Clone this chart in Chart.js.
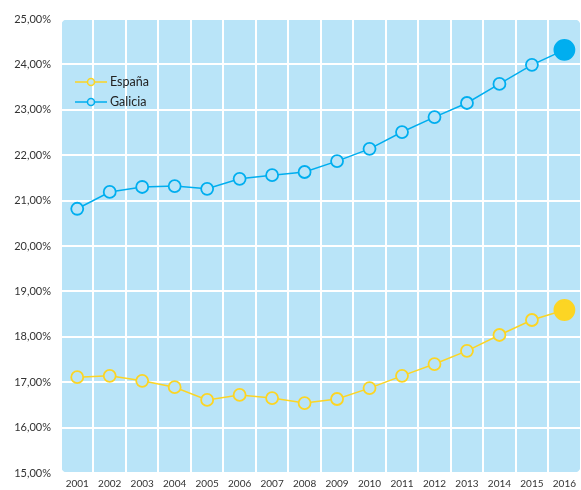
<!DOCTYPE html>
<html lang="es">
<head>
    <meta charset="UTF-8">
    <title>España vs Galicia</title>
    <script src="https://cdn.jsdelivr.net/npm/chart.js"></script>
    <style>
        html, body { margin: 0; padding: 0; background: #fff; overflow: hidden; }
        canvas { display: block; }
    </style>
</head>
<body>
    <canvas id="myChart" width="581" height="490"></canvas>
    <script>
        const years = ['2001','2002','2003','2004','2005','2006','2007','2008','2009','2010','2011','2012','2013','2014','2015','2016'];
        const espana = [17.11,17.14,17.03,16.89,16.61,16.72,16.65,16.54,16.63,16.87,17.14,17.40,17.69,18.04,18.37,18.59];
        const galicia = [20.82,21.19,21.30,21.32,21.26,21.48,21.56,21.63,21.87,22.14,22.51,22.84,23.15,23.57,23.99,24.32];
        const yMin = 15, yMax = 25;

        const bg = '#b9e4f8';
        const yellow = '#fcd524';
        const blue = '#00aeef';
        const fontFam = 'Lato, "Open Sans", sans-serif';

        function lastBig(small, big) {
            return years.map((_, i) => i === years.length - 1 ? big : small);
        }

        // plot background with rounded corners
        const plotBg = {
            id: 'plotBg',
            beforeDraw(chart) {
                const a = chart.chartArea, c = chart.ctx;
                c.save();
                c.fillStyle = bg;
                c.beginPath();
                c.roundRect(a.left, a.top, a.right - a.left, a.bottom - a.top, 7);
                c.fill();
                c.restore();
            }
        };

        // legend: line + hollow circle + label
        const lineLegend = {
            id: 'lineLegend',
            afterDraw(chart) {
                const c = chart.ctx;
                c.save();
                chart.data.datasets.forEach((ds, i) => {
                    const y = 82 + i * 20;
                    c.strokeStyle = ds.borderColor;
                    c.lineWidth = 1.5;
                    c.beginPath();
                    c.moveTo(75, y);
                    c.lineTo(107, y);
                    c.stroke();
                    c.fillStyle = bg;
                    c.beginPath();
                    c.arc(91, y, 3.5, 0, Math.PI * 2);
                    c.fill();
                    c.stroke();
                    c.fillStyle = '#222';
                    c.font = '12.5px ' + fontFam;
                    c.textBaseline = 'middle';
                    c.fillText(ds.label, 110, y);
                });
                c.restore();
            }
        };

        new Chart(document.getElementById('myChart'), {
            type: 'line',
            data: {
                labels: years,
                datasets: [
                    {
                        label: 'España',
                        data: espana,
                        borderColor: yellow,
                        borderWidth: 1.5,
                        pointRadius: lastBig(6, 10),
                        pointBorderWidth: 1.8,
                        pointBackgroundColor: lastBig(bg, yellow),
                        pointBorderColor: yellow
                    },
                    {
                        label: 'Galicia',
                        data: galicia,
                        borderColor: blue,
                        borderWidth: 1.5,
                        pointRadius: lastBig(6, 10),
                        pointBorderWidth: 1.8,
                        pointBackgroundColor: lastBig(bg, blue),
                        pointBorderColor: blue
                    }
                ]
            },
            options: {
                responsive: false,
                animation: false,
                layout: { autoPadding: false, padding: { top: 19, right: 0, left: 0, bottom: 0 } },
                plugins: {
                    legend: { display: false },
                    tooltip: { enabled: false }
                },
                scales: {
                    x: {
                        offset: true,
                        grid: { color: '#ffffff', lineWidth: 2, offset: true, drawTicks: false },
                        border: { display: false },
                        ticks: { color: '#333', font: { size: 10, family: fontFam }, padding: 5, maxRotation: 0 },
                        afterFit(s) { s.height = 17; }
                    },
                    y: {
                        min: yMin,
                        max: yMax,
                        grid: { color: '#ffffff', lineWidth: 2, drawTicks: false },
                        border: { display: false },
                        ticks: {
                            stepSize: 1,
                            padding: 10,
                            color: '#333',
                            font: { size: 11, family: fontFam },
                            callback: v => v.toFixed(2).replace('.', ',') + '%'
                        },
                        afterFit(s) { s.width = 61; }
                    }
                }
            },
            plugins: [plotBg, lineLegend]
        });
    </script>
</body>
</html>
